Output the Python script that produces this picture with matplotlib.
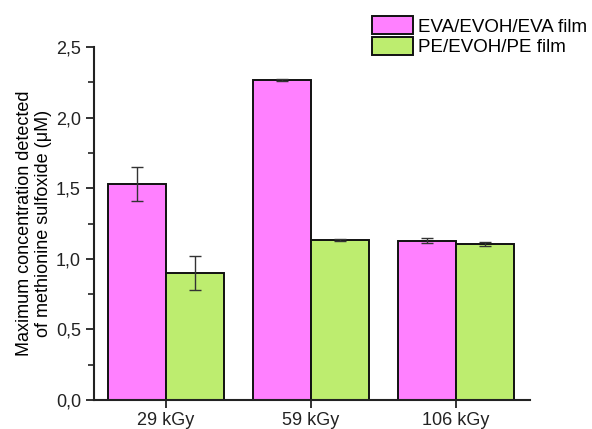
import numpy as np
import matplotlib.pyplot as plt
from matplotlib.ticker import FuncFormatter, MultipleLocator

plt.rcParams['font.family'] = ['Liberation Sans', 'DejaVu Sans']

doses = ['29 kGy', '59 kGy', '106 kGy']
eva = [1.53, 2.268, 1.128]
eva_err = [0.12, 0.008, 0.018]
pe = [0.90, 1.135, 1.105]
pe_err = [0.123, 0.007, 0.015]

fig = plt.figure(figsize=(5.92, 4.29), dpi=100)
ax = fig.add_axes([0.159, 0.0676, 0.736, 0.8224])

x = np.arange(len(doses))
w = 0.4
ekw = dict(ecolor='#333333', elinewidth=1.0, capsize=4, capthick=1.0)
ax.bar(x - w/2, eva, w, yerr=eva_err, color='#FF80FF', edgecolor='#111111',
       linewidth=1.4, label='EVA/EVOH/EVA film', error_kw=ekw)
ax.bar(x + w/2, pe, w, yerr=pe_err, color='#BDED6F', edgecolor='#111111',
       linewidth=1.4, label='PE/EVOH/PE film', error_kw=ekw)

ax.set_xlim(-0.494, 2.512)
ax.set_ylim(0, 2.5)
ax.set_xticks(x)
ax.set_xticklabels(doses)
ax.yaxis.set_major_locator(MultipleLocator(0.5))
ax.yaxis.set_minor_locator(MultipleLocator(0.25))
ax.yaxis.set_major_formatter(FuncFormatter(lambda v, p: f'{v:.1f}'.replace('.', ',')))

for s in ['top', 'right']:
    ax.spines[s].set_visible(False)
for s in ['left', 'bottom']:
    ax.spines[s].set_linewidth(1.5)
    ax.spines[s].set_color('#222222')

ax.tick_params(axis='both', which='major', length=6, width=1.3, labelsize=13, colors='#222222')
ax.tick_params(axis='x', which='major', pad=3)
ax.tick_params(axis='y', which='minor', length=4, width=1.2, colors='#222222')
ax.tick_params(axis='x', which='minor', bottom=False)

ax.set_ylabel('Maximum concentration detected\nof methionine sulfoxide (μM)', fontsize=13,
              labelpad=3, linespacing=1.15)

fig.legend(loc='upper left', bbox_to_anchor=(0.628, 0.962), frameon=False, fontsize=13.5,
           handlelength=2.2, handleheight=1.1, labelspacing=0.05, handletextpad=0.25,
           borderaxespad=0, borderpad=0)

fig.savefig('out.png', dpi=100)
